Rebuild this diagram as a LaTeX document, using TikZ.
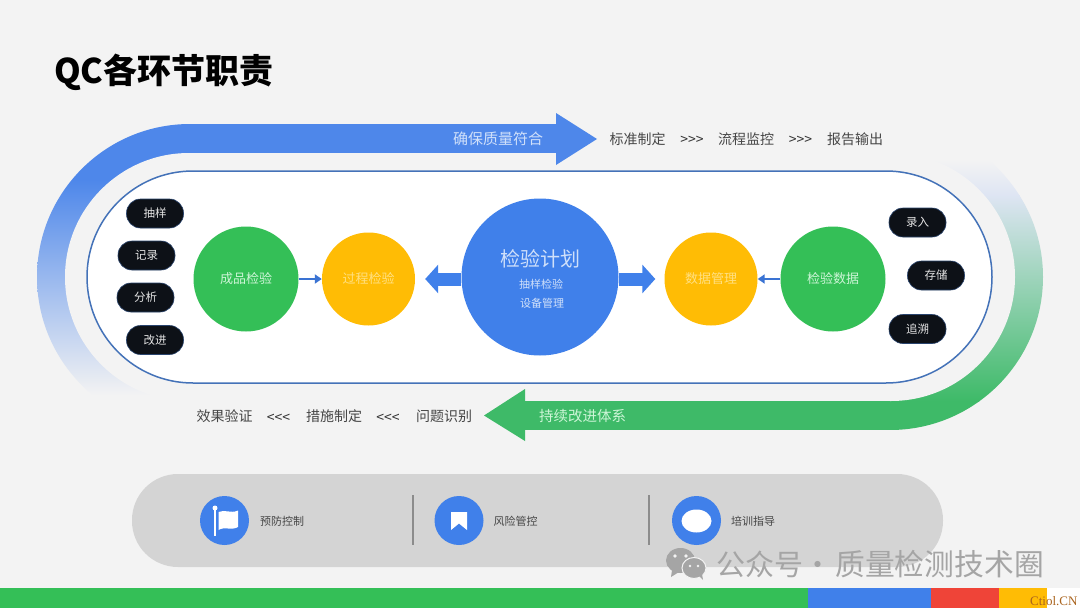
\documentclass[tikz,border=0pt]{standalone}
\usepackage{fontspec}
\setmainfont{Noto Sans CJK SC}
\newfontfamily\sitefont{Liberation Serif}
\usetikzlibrary{arrows.meta}
\definecolor{page-gray}{RGB}{243, 243, 243}
\definecolor{band-blue}{RGB}{78, 135, 234}
\definecolor{band-fade}{RGB}{160, 190, 240}
\definecolor{band-green}{RGB}{62, 186, 104}
\definecolor{band-teal}{RGB}{160, 198, 207}
\definecolor{band-mist}{RGB}{222, 229, 243}
\definecolor{ball-blue}{RGB}{64, 128, 234}
\definecolor{ball-green}{RGB}{52, 191, 87}
\definecolor{ball-yellow}{RGB}{255, 188, 5}
\definecolor{bar-red}{RGB}{239, 68, 56}
\definecolor{pill-black}{RGB}{13, 17, 23}
\definecolor{ring-blue}{RGB}{68, 114, 184}
\definecolor{shelf-gray}{RGB}{212, 212, 212}
\definecolor{text-gray}{RGB}{70, 70, 70}
\definecolor{mark-gray}{RGB}{165, 165, 165}
\definecolor{pale-blue}{RGB}{208, 224, 250}
\definecolor{pale-green}{RGB}{205, 245, 215}
\definecolor{pale-yellow}{RGB}{255, 224, 130}
\definecolor{site-brown}{RGB}{170, 100, 30}
\tikzset{
  ball/.style={circle, inner sep=0pt, font=\fontsize{13}{13}\selectfont},
  greenball/.style={ball, fill=ball-green, minimum size=105pt, text=pale-green},
  yellowball/.style={ball, fill=ball-yellow, minimum size=93pt, text=pale-yellow},
  blacktag/.style={rounded corners=14pt, fill=pill-black, draw=ring-blue!60!black, line width=0.6pt,
    minimum width=57pt, minimum height=29pt, inner sep=0pt, text=white!90!black, font=\fontsize{11.5}{12}\selectfont},
  chainword/.style={text=text-gray, inner sep=0pt, font=\fontsize{14}{14}\selectfont},
  chainmark/.style={text=black!80, inner sep=0pt, font=\fontsize{14}{14}\selectfont},
  iconball/.style={circle, fill=ball-blue, minimum size=49pt, inner sep=0pt},
  shelfword/.style={text=text-gray, inner sep=0pt, font=\fontsize{11}{11}\selectfont},
  fatarrow/.style={draw=ball-blue, line width=13pt, -{Triangle[length=13pt,width=28pt]}},
  thinarrow/.style={draw=ball-blue!90!black, line width=2.5pt, -{Triangle[length=7pt,width=9pt]}}
}
\begin{document}
\begin{tikzpicture}[x=1pt, y=-1pt]
\useasboundingbox (0,0) rectangle (1080,608);
\fill[page-gray] (0,0) rectangle (1080,608);
\node[anchor=west, inner sep=0pt, font=\fontsize{34}{34}\selectfont\bfseries] (title) at (54,72) {QC各环节职责};

\begin{scope}
\clip[rounded corners=153pt] (37,124) rectangle (1043,430);
\fill[band-blue] (0,124) rectangle (556,180);
\shade[top color=band-blue, middle color=band-fade, bottom color=page-gray] (0,180) rectangle (300,395);
\fill[band-green] (525,401) rectangle (1080,430);
\shade[top color=page-gray, bottom color=band-mist] (890,160) rectangle (1080,195);
\shade[top color=band-mist, middle color=band-teal, bottom color=band-green] (890,195) rectangle (1080,401);
\end{scope}
\fill[page-gray, rounded corners=124pt] (65,153) rectangle (1015,401);
\fill[band-blue] (556,113) -- (597,139) -- (556,165) -- cycle;
\fill[band-green] (525,389) -- (484,415.5) -- (525,441) -- cycle;
\fill[band-blue] (300,124) rectangle (556,153);
\fill[band-green] (525,401) rectangle (890,430);

\filldraw[fill=white, draw=ring-blue, line width=1.5pt, rounded corners=106pt] (87,171) rectangle (992,383);

\node[text=pale-blue, inner sep=0pt, font=\fontsize{15}{15}\selectfont] (assure) at (498,139) {确保质量符合};
\node[chainword] (standard) at (637.5,139) {标准制定};
\node[chainmark] (markone) at (692,140) {>{}>{}>};
\node[chainword] (monitor) at (746,139) {流程监控};
\node[chainmark] (marktwo) at (800.5,140) {>{}>{}>};
\node[chainword] (report) at (855,139) {报告输出};

\node[text=pale-green, inner sep=0pt, font=\fontsize{14.5}{15}\selectfont] (improve) at (582.5,416) {持续改进体系};
\node[chainword] (verify) at (224.5,416.5) {效果验证};
\node[chainmark] (markthree) at (278.5,418) {<{}<{}<};
\node[chainword] (measure) at (334,416.5) {措施制定};
\node[chainmark] (markfour) at (388,418) {<{}<{}<};
\node[chainword] (identify) at (444,416.5) {问题识别};

\node[blacktag] (sample) at (155,213.5) {抽样};
\node[blacktag] (record) at (146.5,255.5) {记录};
\node[blacktag] (analyse) at (145.5,297.5) {分析};
\node[blacktag] (correct) at (155,340) {改进};
\node[blacktag] (entry) at (917.5,222.5) {录入};
\node[blacktag] (store) at (936,275.5) {存储};
\node[blacktag] (trace) at (917.5,329) {追溯};

\node[greenball] (finished) at (246,279) {\raisebox{-2.5pt}{成品检验}};
\node[yellowball] (process) at (368.5,279) {过程检验};
\node[circle, fill=ball-blue, minimum size=157pt, inner sep=0pt] (plan) at (540,277) {};
\node[yellowball] (datamgmt) at (711,279) {数据管理};
\node[greenball] (inspect) at (833,279) {\raisebox{-1pt}{检验数据}};

\node[text=pale-blue, inner sep=0pt, font=\fontsize{20}{20}\selectfont] (plantitle) at (540.5,259) {检验计划};
\node[text=pale-blue, inner sep=0pt, font=\fontsize{11}{11}\selectfont] (planone) at (541,284) {抽样检验};
\node[text=pale-blue, inner sep=0pt, font=\fontsize{11}{11}\selectfont] (plantwo) at (542,303) {设备管理};

\draw[thinarrow] (finished.east) -- (process.west);
\draw[thinarrow] (inspect.west) -- (datamgmt.east);
\draw[fatarrow, shorten >=10pt] (process -| plan.west) -- (process.east);
\draw[fatarrow, shorten >=9pt] (datamgmt -| plan.east) -- (datamgmt.west);

\fill[shelf-gray, rounded corners=46pt] (132,474) rectangle (943,567);
\node[iconball] (flag) at (224.5,520.5) {};
\node[iconball] (bookmark) at (459,520.5) {};
\node[iconball] (bubble) at (696.5,520.5) {};
\node[shelfword] (prevent) at (282,521) {预防控制};
\node[shelfword] (risk) at (515.5,521) {风险管控};
\node[shelfword] (train) at (753,521) {培训指导};
\draw[black!45, line width=1.2pt] (413,495) -- (413,545);
\draw[black!45, line width=1.2pt] (649,495) -- (649,545);

\draw[white, line width=1.5pt] (215,507) -- (215,536);
\fill[white] (215,508) circle (2.5);
\fill[white] (218.5,512) .. controls (225,509) and (231,514) .. (238,510.5) -- (238,527) .. controls (231,531) and (225,526) .. (218.5,530) -- cycle;
\fill[white] (451,512) -- (467,512) -- (467,530) -- (459,523.5) -- (451,530) -- cycle;
\fill[white] (696.5,521) ellipse (15 and 11.5);

\fill[ball-green] (0,588) rectangle (808,608);
\fill[ball-blue] (808,588) rectangle (931,608);
\fill[bar-red] (931,588) rectangle (999,608);
\fill[ball-yellow] (999,588) rectangle (1047,608);
\fill[white] (1047,588) rectangle (1080,608);
\node[anchor=base west, inner sep=0pt, text=site-brown, font=\sitefont\fontsize{13}{13}\selectfont] (site) at (1030,605.5) {Ctiol.CN};

\filldraw[fill=mark-gray, draw=none] (680.5,560.5) ellipse (14.5 and 12.5);
\fill[mark-gray] (672,570) -- (671,577) -- (679,572) -- cycle;
\filldraw[fill=mark-gray, draw=page-gray, line width=1pt] (694,568) ellipse (12 and 10.5);
\fill[mark-gray] (699,576) -- (703,580) -- (702,574) -- cycle;
\fill[page-gray] (675,556) circle (1.8) (686,556) circle (1.8) (690,566) circle (1.4) (698,566) circle (1.4);
\node[anchor=west, inner sep=0pt, text=mark-gray, font=\fontsize{29}{29}\selectfont] (account) at (716,564) {公众号};
\node[inner sep=0pt, text=mark-gray, font=\fontsize{29}{29}\selectfont] (dot) at (818,568) {·};
\node[anchor=east, inner sep=0pt, text=mark-gray, font=\fontsize{29.8}{30}\selectfont] (accountname) at (1044,564) {质量检测技术圈};
\end{tikzpicture}
\end{document}
